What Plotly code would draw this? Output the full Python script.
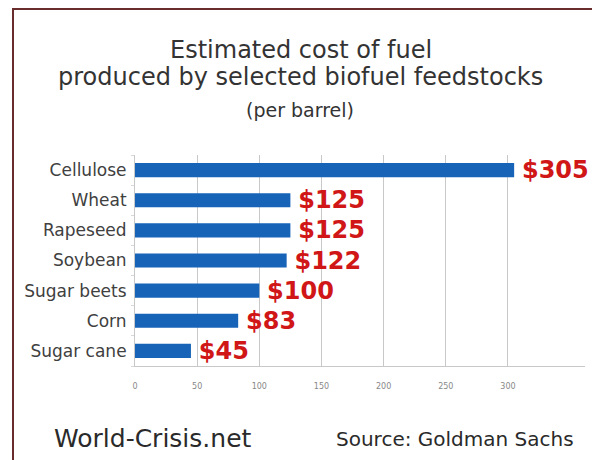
import plotly.graph_objects as go

categories = ["Cellulose", "Wheat", "Rapeseed", "Soybean", "Sugar beets", "Corn", "Sugar cane"]
values = [305, 125, 125, 122, 100, 83, 45]
value_labels = ["$305", "$125", "$125", "$122", "$100", "$83", "$45"]
tick_vals = [0, 50, 100, 150, 200, 250, 300]

W, H = 592, 460
ML, MR, MT, MB = 135, 7, 155, 94
PW, PH = W - ML - MR, H - MT - MB

def px_x(p):
    return (p - ML) / PW

def px_y(p):
    return 1 - (p - MT) / PH

fig = go.Figure()
fig.add_trace(go.Bar(
    y=categories, x=values, orientation="h",
    marker=dict(color="#1763b8", line=dict(width=0)),
    width=0.47,
    text=value_labels, texttemplate="\u2009%{text}",
    textposition="outside", constraintext="none",
    cliponaxis=False,
    textfont=dict(family="DejaVu Sans", size=24, color="#d01616", weight="bold"),
    hoverinfo="skip",
))

fig.update_layout(
    width=W, height=H,
    margin=dict(l=ML, r=MR, t=MT, b=MB, pad=0),
    paper_bgcolor="white", plot_bgcolor="white",
    showlegend=False,
    xaxis=dict(
        range=[0, 362], tickvals=tick_vals, showgrid=True, gridcolor="#c8c8c8", gridwidth=1,
        zeroline=False, showline=True, linecolor="#c8c8c8", linewidth=1,
        ticks="", ticklabelstandoff=12,
        tickfont=dict(family="DejaVu Sans", size=8, color="#888888"),
        fixedrange=True,
    ),
    yaxis=dict(
        categoryorder="array", categoryarray=categories[::-1],
        range=[-0.5, 6.5], showline=True, linecolor="#c8c8c8", linewidth=1,
        ticks="outside", ticklen=3, tickcolor="#d8d8d8", tickson="boundaries",
        ticklabelstandoff=4,
        tickfont=dict(family="DejaVu Sans", size=17, color="#404040"),
        showgrid=False, fixedrange=True,
    ),
    font=dict(family="DejaVu Sans"),
)

ann = [
    ("Estimated cost of fuel", 301, 50, 24, "#333333"),
    ("produced by selected biofuel feedstocks", 300, 77, 24, "#333333"),
    ("(per barrel)", 300, 110, 19, "#333333"),
    ("World-Crisis.net", 153, 438, 25, "#2a2a2a"),
    ("Source: Goldman Sachs", 455, 439, 20, "#2a2a2a"),
]
for t, x, y, s, c in ann:
    fig.add_annotation(text=t, xref="paper", yref="paper", x=px_x(x), y=px_y(y),
                       xanchor="center", yanchor="middle", showarrow=False,
                       font=dict(family="DejaVu Sans", size=s, color=c))

border = "#6a2d2d"
fig.add_shape(type="line", xref="paper", yref="paper",
              x0=px_x(13), x1=px_x(592), y0=px_y(9), y1=px_y(9),
              line=dict(color=border, width=2))
fig.add_shape(type="line", xref="paper", yref="paper",
              x0=px_x(13), x1=px_x(13), y0=px_y(8), y1=px_y(460),
              line=dict(color=border, width=2))

fig.write_html("out.html", config=dict(displayModeBar=False))
